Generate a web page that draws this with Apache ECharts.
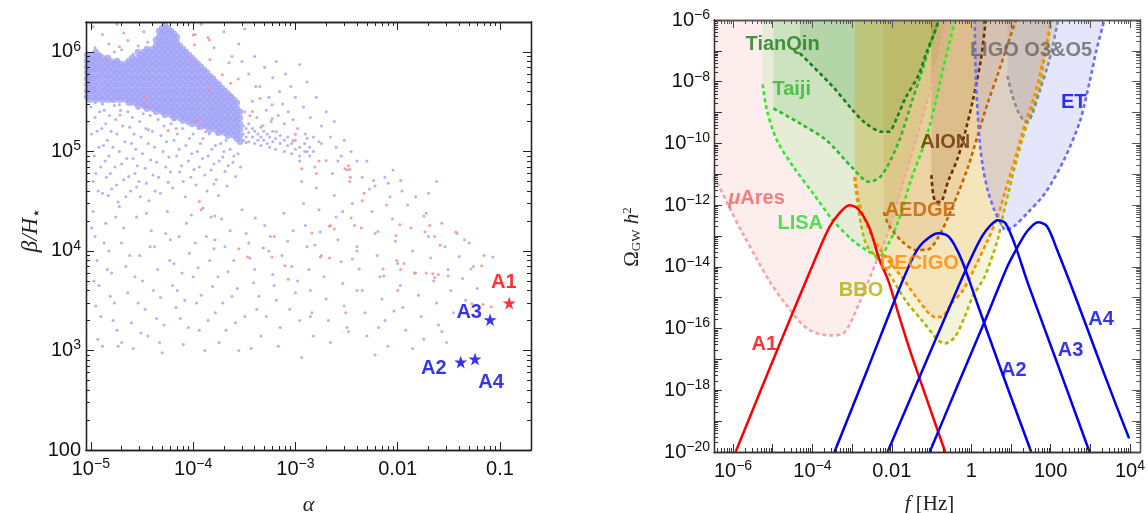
<!DOCTYPE html>
<html><head><meta charset="utf-8">
<script src="https://cdn.jsdelivr.net/npm/echarts@6.0.0/dist/echarts.min.js"></script>
<style>html,body{margin:0;padding:0;background:#fff}#c{width:1148px;height:513px}</style>
</head><body><div id="c"></div><script>
// ================= LEFT PANEL DATA (alpha, beta/H*) =================
const alphaTicks = [1e-5, 1e-4, 1e-3, 0.01, 0.1];
const alphaTickLabels = ['10^-5', '10^-4', '10^-3', '0.01', '0.1'];
const betaTicks = [100, 1e3, 1e4, 1e5, 1e6];
const betaTickLabels = ['100', '10^3', '10^4', '10^5', '10^6'];

// dense cloud: one alpha per column, with the beta values read along that column
const clusterAlpha = [9.2e-6,9.8e-6,1.05e-5,1.12e-5,1.2e-5,1.29e-5,1.38e-5,1.47e-5,1.58e-5,1.69e-5,1.8e-5,1.93e-5,2.06e-5,2.21e-5,2.36e-5,2.53e-5,2.7e-5,2.89e-5,3.1e-5,3.31e-5,3.54e-5,3.79e-5,4.05e-5,4.34e-5,4.64e-5,4.97e-5,5.3e-5,5.7e-5,6.1e-5,6.5e-5,6.96e-5,7.45e-5,7.97e-5,8.5e-5,9.1e-5,9.75e-5,1.04e-4,1.11e-4,1.19e-4,1.28e-4,1.37e-4,1.46e-4,1.56e-4,1.67e-4,1.79e-4,1.91e-4,2.05e-4,2.19e-4,2.34e-4,2.51e-4,2.68e-4,2.87e-4];
const clusterBeta = [
[9.3e5,8.1e5,7.1e5,6.2e5,5.4e5,4.7e5,4.06e5,3.53e5],
[8.7e5,7.6e5,6.6e5,5.7e5,5.0e5,4.35e5,3.8e5,3.3e5],
[9.4e5,8.2e5,7.1e5,6.3e5,5.4e5,4.6e5,4.1e5,3.5e5],
[1.0e6,8.6e5,7.6e5,6.7e5,5.7e5,5.0e5,4.3e5,3.8e5,3.3e5],
[9.2e5,8.1e5,7.0e5,6.2e5,5.5e5,4.7e5,4.0e5,3.5e5],
[8.8e5,7.6e5,6.6e5,5.8e5,5.0e5,4.4e5,3.8e5,3.3e5],
[8.1e5,7.1e5,6.2e5,5.4e5,4.7e5,4.1e5,3.5e5],
[8.7e5,7.5e5,6.6e5,5.7e5,4.9e5,4.35e5,3.8e5,3.3e5],
[8.0e5,7.1e5,6.2e5,5.4e5,4.7e5,4.06e5,3.55e5],
[7.6e5,6.6e5,5.7e5,5.0e5,4.35e5,3.8e5,3.3e5],
[8.1e5,7.2e5,6.2e5,5.4e5,4.7e5,4.06e5,3.5e5],
[7.6e5,6.5e5,5.7e5,5.0e5,4.4e5,3.8e5,3.3e5],
[7.1e5,6.2e5,5.4e5,4.7e5,4.06e5,3.53e5],
[7.6e5,6.6e5,5.7e5,5.0e5,4.35e5,3.8e5,3.3e5],
[8.1e5,7.1e5,6.2e5,5.4e5,4.7e5,4.06e5,3.53e5,3.08e5],
[8.7e5,7.6e5,6.6e5,5.7e5,5.0e5,4.35e5,3.8e5,3.3e5],
[8.1e5,7.1e5,6.2e5,5.4e5,4.7e5,4.06e5,3.53e5,3.08e5],
[1.0e6,8.7e5,7.6e5,6.6e5,5.7e5,5.0e5,4.35e5,3.8e5,3.3e5,2.87e5],
[9.3e5,8.1e5,7.1e5,6.2e5,5.4e5,4.7e5,4.06e5,3.53e5,3.08e5],
[1.0e6,8.7e5,7.6e5,6.6e5,5.7e5,5.0e5,4.35e5,3.8e5,3.3e5,2.87e5],
[1.07e6,9.3e5,8.1e5,7.1e5,6.2e5,5.4e5,4.7e5,4.06e5,3.53e5,3.08e5,2.68e5],
[1.0e6,8.7e5,7.6e5,6.6e5,5.7e5,5.0e5,4.35e5,3.8e5,3.3e5,2.87e5],
[1.07e6,9.3e5,8.1e5,7.1e5,6.2e5,5.4e5,4.7e5,4.06e5,3.53e5,3.08e5,2.68e5],
[1.32e6,1.15e6,1.0e6,8.7e5,7.6e5,6.6e5,5.7e5,5.0e5,4.35e5,3.8e5,3.3e5,2.87e5,2.5e5],
[1.62e6,1.41e6,1.23e6,1.07e6,9.3e5,8.1e5,7.1e5,6.2e5,5.4e5,4.7e5,4.06e5,3.53e5,3.08e5,2.68e5],
[1.74e6,1.52e6,1.32e6,1.15e6,1.0e6,8.7e5,7.6e5,6.6e5,5.7e5,5.0e5,4.35e5,3.8e5,3.3e5,2.87e5,2.5e5],
[1.87e6,1.62e6,1.41e6,1.23e6,1.07e6,9.3e5,8.1e5,7.1e5,6.2e5,5.4e5,4.7e5,4.06e5,3.53e5,3.08e5,2.68e5,2.33e5],
[1.74e6,1.52e6,1.32e6,1.15e6,1.0e6,8.7e5,7.6e5,6.6e5,5.7e5,5.0e5,4.35e5,3.8e5,3.3e5,2.87e5,2.5e5],
[1.62e6,1.41e6,1.23e6,1.07e6,9.3e5,8.1e5,7.1e5,6.2e5,5.4e5,4.7e5,4.06e5,3.53e5,3.08e5,2.68e5,2.33e5],
[1.52e6,1.32e6,1.15e6,1.0e6,8.7e5,7.6e5,6.6e5,5.7e5,5.0e5,4.35e5,3.8e5,3.3e5,2.87e5,2.5e5,2.17e5],
[1.41e6,1.23e6,1.07e6,9.3e5,8.1e5,7.1e5,6.2e5,5.4e5,4.7e5,4.06e5,3.53e5,3.08e5,2.68e5,2.33e5],
[1.15e6,1.0e6,8.7e5,7.6e5,6.6e5,5.7e5,5.0e5,4.35e5,3.8e5,3.3e5,2.87e5,2.5e5,2.17e5],
[1.07e6,9.3e5,8.1e5,7.1e5,6.2e5,5.4e5,4.7e5,4.06e5,3.53e5,3.08e5,2.68e5,2.33e5,2.03e5],
[1.0e6,8.7e5,7.6e5,6.6e5,5.7e5,5.0e5,4.35e5,3.8e5,3.3e5,2.87e5,2.5e5,2.17e5],
[9.3e5,8.1e5,7.1e5,6.2e5,5.4e5,4.7e5,4.06e5,3.53e5,3.08e5,2.68e5,2.33e5,2.03e5],
[8.7e5,7.6e5,6.6e5,5.7e5,5.0e5,4.35e5,3.8e5,3.3e5,2.87e5,2.5e5,2.17e5,1.89e5],
[8.1e5,7.1e5,6.2e5,5.4e5,4.7e5,4.06e5,3.53e5,3.08e5,2.68e5,2.33e5,2.03e5],
[7.6e5,6.6e5,5.7e5,5.0e5,4.35e5,3.8e5,3.3e5,2.87e5,2.5e5,2.17e5,1.89e5],
[7.1e5,6.2e5,5.4e5,4.7e5,4.06e5,3.53e5,3.08e5,2.68e5,2.33e5,2.03e5,1.77e5],
[6.6e5,5.7e5,5.0e5,4.35e5,3.8e5,3.3e5,2.87e5,2.5e5,2.17e5,1.89e5],
[6.2e5,5.4e5,4.7e5,4.06e5,3.53e5,3.08e5,2.68e5,2.33e5,2.03e5,1.77e5],
[5.7e5,5.0e5,4.35e5,3.8e5,3.3e5,2.87e5,2.5e5,2.17e5,1.89e5,1.65e5],
[5.4e5,4.7e5,4.06e5,3.53e5,3.08e5,2.68e5,2.33e5,2.03e5,1.77e5],
[5.0e5,4.35e5,3.8e5,3.3e5,2.87e5,2.5e5,2.17e5,1.89e5,1.65e5],
[4.7e5,4.06e5,3.53e5,3.08e5,2.68e5,2.33e5,2.03e5,1.77e5,1.54e5],
[4.35e5,3.8e5,3.3e5,2.87e5,2.5e5,2.17e5,1.89e5,1.65e5],
[4.06e5,3.53e5,3.08e5,2.68e5,2.33e5,2.03e5,1.77e5,1.54e5],
[3.8e5,3.3e5,2.87e5,2.5e5,2.17e5,1.89e5,1.65e5,1.44e5],
[3.53e5,3.08e5,2.68e5,2.33e5,2.03e5,1.77e5,1.54e5],
[3.3e5,2.87e5,2.5e5,2.17e5,1.89e5,1.65e5,1.44e5],
[3.08e5,2.68e5,2.33e5,2.03e5,1.77e5,1.54e5,1.34e5],
[2.5e5,2.17e5,1.89e5,1.65e5,1.44e5,1.25e5]
];

const blueSparse = [
[1.1e-5,1.1e6],[1.3e-5,1.5e6],[1.5e-5,1.2e6],[1.8e-5,1.9e6],[2e-5,1.05e6],[2.3e-5,1.3e6],[2.6e-5,9.5e5],[2.9e-5,1.15e6],[3.3e-5,1.6e6],[3.6e-5,1.25e6],[1.2e-5,9.6e5],[1.7e-5,1.0e6],[1.05e-5,1.8e6],[2.1e-5,1.55e6],[1.4e-4,1.4e6],[1.6e-4,1.1e6],[1.2e-4,1.9e6],[2e-4,1.6e6],[2.4e-4,9e5],[2.8e-4,1.2e6],[1.05e-4,1.5e6],[3.2e-4,1.7e6],
[3e-4,8e5],[3.5e-4,6e5],[4e-4,9e5],[4.5e-4,4.5e5],[5e-4,7e5],[5.5e-4,3.5e5],[6e-4,5.5e5],[6.5e-4,8e5],[7e-4,4e5],[7.5e-4,3e5],[8e-4,6e5],[8.5e-4,2.5e5],[9e-4,4.5e5],[1e-3,3.5e5],[1.1e-3,7.5e5],[1.2e-3,2.8e5],[1.3e-3,5e5],[1.4e-3,2.2e5],[1.6e-3,3.5e5],[1.8e-3,1.8e5],[2e-3,2.5e5],[3.2e-4,2.5e5],[3.8e-4,3.2e5],[4.2e-4,2.2e5],[5.2e-4,2.6e5],[5.8e-4,2e5],[6.8e-4,2.3e5],[7.8e-4,1.9e5],[9.5e-4,2.1e5],[1.05e-3,1.7e5],[1.25e-3,1.5e5],[1.5e-3,1.4e5],[1.7e-3,1.25e5],[2.2e-3,1.4e5],[2.5e-3,1.1e5],[2.8e-3,9e4],[3e-3,1.3e5],[2.4e-3,2e5],[3.5e-3,1e5],[4e-3,8e4],
[3.1e-4,1.8e5],[3.1e-4,1.5e5],[3.1e-4,1.3e5],[3.3e-4,1.7e5],[3.3e-4,1.4e5],[3.5e-4,1.9e5],[3.5e-4,1.55e5],[3.5e-4,1.25e5],[3.8e-4,1.7e5],[3.8e-4,1.4e5],[4.0e-4,1.6e5],[4.0e-4,1.2e5],[4.3e-4,1.5e5],[4.3e-4,1.3e5],[4.6e-4,1.75e5],[4.6e-4,1.4e5],[4.6e-4,1.15e5],[4.9e-4,1.6e5],[4.9e-4,1.3e5],[5.3e-4,1.5e5],[5.3e-4,1.2e5],[5.6e-4,1.4e5],[5.6e-4,1.1e5],[6.0e-4,1.6e5],[6.0e-4,1.25e5],[6.4e-4,1.35e5],[6.4e-4,1.05e5],[7.1e-4,1.45e5],[7.1e-4,1.2e5],[7.8e-4,1.3e5],[7.8e-4,1.0e5],[8.4e-4,1.4e5],[8.4e-4,1.15e5],[9.2e-4,1.2e5],[9.2e-4,9.5e4],[1.0e-3,1.3e5],[1.0e-3,1.05e5],[1.1e-3,1.1e5],[1.1e-3,9e4],[1.23e-3,1.2e5],[1.23e-3,1.0e5],[1.38e-3,1.1e5],[1.38e-3,9e4],[1.5e-3,1.0e5],
[1.0e-5,2.8e5],[1.1e-5,2.2e5],[1.15e-5,1.6e5],[1.2e-5,1.1e5],[1.25e-5,7e4],[1.05e-5,5e4],[1.3e-5,3.8e4],[1.35e-5,2.6e5],[1.4e-5,1.9e5],[1.45e-5,1.3e5],[1.5e-5,9e4],[1.55e-5,6e4],[1.6e-5,4.2e4],[1.7e-5,2.9e5],[1.75e-5,2.1e5],[1.8e-5,1.5e5],[1.9e-5,1e5],[2e-5,7.5e4],[2.1e-5,5.2e4],[2.2e-5,3.5e4],[2.3e-5,2.5e5],[2.4e-5,1.75e5],[2.5e-5,1.2e5],[2.6e-5,8.5e4],[2.7e-5,6e4],[2.8e-5,4.4e4],[2.9e-5,2.7e5],[3e-5,2e5],[3.1e-5,1.4e5],[3.2e-5,9.5e4],[3.4e-5,6.8e4],[3.5e-5,4.8e4],[3.7e-5,3.2e4],[3.8e-5,2.3e5],[4e-5,1.6e5],[4.2e-5,1.1e5],[4.4e-5,7.8e4],[4.6e-5,5.5e4],[4.8e-5,3.8e4],[5e-5,2.5e5],[5.2e-5,1.8e5],[5.5e-5,1.25e5],[5.8e-5,8.8e4],[6e-5,6.2e4],[6.3e-5,4.3e4],[6.6e-5,2.1e5],[7e-5,1.5e5],[7.3e-5,1.05e5],[7.7e-5,7.2e4],[8e-5,5e4],[8.4e-5,3.5e4],[8.8e-5,1.9e5],[9.2e-5,1.35e5],[9.7e-5,9.5e4],[1.02e-4,6.6e4],[1.07e-4,4.6e4],[1.12e-4,1.7e5],[1.18e-4,1.2e5],[1.24e-4,8.5e4],[1.3e-4,5.8e4],[1.37e-4,4e4],[1.44e-4,1.5e5],[1.52e-4,1.05e5],[1.6e-4,7.5e4],[1.68e-4,5.2e4],[1.77e-4,3.6e4],[1.86e-4,1.2e5],[1.95e-4,8.8e4],[2.05e-4,6.3e4],[2.15e-4,4.5e4],[2.3e-4,1.05e5],[2.45e-4,7.8e4],[2.6e-4,5.6e4],[2.75e-4,9.5e4],[2.9e-4,7e4],[1.1e-5,3.1e5],[1.6e-5,3.2e5],[2.5e-5,3e5],[3.3e-5,2.9e5],[4.5e-5,2.7e5],[6e-5,2.6e5],[8e-5,2.3e5],[1.05e-4,2e5],[1.35e-4,1.8e5],[1.7e-4,1.5e5],[2.1e-4,1.3e5],
[1.02e-5,1.5e5],[1.08e-5,9e4],[1.12e-5,6e4],[1.18e-5,4e4],[1.22e-5,2.5e5],[1.28e-5,1.7e5],[1.33e-5,1.15e5],[1.38e-5,8e4],[1.42e-5,5.5e4],[1.48e-5,3.6e4],[1.52e-5,2.3e5],[1.58e-5,1.6e5],[1.65e-5,1.1e5],[1.72e-5,7e4],[1.78e-5,4.6e4],[1.85e-5,3.1e4],[1.95e-5,2.6e5],[2.05e-5,1.8e5],[2.15e-5,1.25e5],[2.25e-5,8.5e4],[2.35e-5,5.6e4],[2.45e-5,4e4],[2.55e-5,2.2e5],[2.65e-5,1.5e5],[2.75e-5,1.05e5],[2.85e-5,7.2e4],[2.95e-5,5e4],[3.05e-5,3.5e4],[3.25e-5,2.4e5],[3.45e-5,1.7e5],[3.65e-5,1.2e5],[3.85e-5,8.2e4],[4.05e-5,5.8e4],[4.25e-5,4e4],[4.55e-5,2.1e5],[4.85e-5,1.45e5],[5.1e-5,1e5],[5.4e-5,7e4],[5.7e-5,4.9e4],[6.1e-5,1.9e5],[6.5e-5,1.3e5],[6.9e-5,9e4],[7.4e-5,6.2e4],[7.9e-5,1.7e5],[8.5e-5,1.15e5],[9e-5,8e4],[9.5e-5,5.5e4],[1.0e-4,1.5e5],[1.1e-4,1e5],[1.15e-4,7e4],[1.25e-4,1.35e5],[1.4e-4,9e4],[1.5e-4,6.5e4],[1.65e-4,1.15e5],[1.8e-4,8e4],[2e-4,1e5],[2.2e-4,7.2e4],[2.5e-4,9e4],[1.3e-5,3e5],[1.9e-5,2.95e5],
[1.05e-5,2.5e4],[1.1e-5,1.4e4],[1.15e-5,8e3],[1.2e-5,4.5e3],[1.25e-5,2.2e3],[1.3e-5,1.1e3],[1.4e-5,1.9e4],[1.5e-5,1e4],[1.6e-5,6e3],[1.7e-5,3e3],[1.8e-5,1.6e3],[1.9e-5,2.8e4],[2e-5,1.2e4],[2.2e-5,7e3],[2.3e-5,3.8e3],[2.5e-5,1.9e3],[2.6e-5,1.05e3],[2.8e-5,2.2e4],[3e-5,9e3],[3.2e-5,5e3],[3.4e-5,2.6e3],[3.6e-5,1.4e3],[3.9e-5,1.6e4],[4.2e-5,1.1e4],[4.5e-5,6.5e3],[4.8e-5,3.4e3],[5.2e-5,1.8e3],[5.6e-5,2.5e4],[6e-5,1.3e4],[6.5e-5,7.5e3],[7e-5,4e3],[7.5e-5,2.1e3],[8e-5,1.15e3],[8.6e-5,1.9e4],[9.2e-5,9.5e3],[1e-4,5.5e3],[1.08e-4,3e3],[1.15e-4,1.6e3],[1.25e-4,2.7e4],[1.35e-4,1.4e4],[1.45e-4,8e3],[1.55e-4,4.4e3],[1.65e-4,2.4e3],[1.8e-4,1.2e3],[1.9e-4,2.1e4],[2.05e-4,1.1e4],[2.2e-4,6.2e3],[2.4e-4,3.5e3],[2.6e-4,1.9e3],[2.8e-4,1e3],[3e-4,2.6e4],[3.3e-4,1.5e4],[3.6e-4,8.5e3],[3.9e-4,4.8e3],[4.2e-4,2.6e3],[4.6e-4,1.4e3],[5e-4,1.8e4],[5.5e-4,1e4],[6e-4,5.8e3],[6.5e-4,3.2e3],[7.1e-4,1.7e3],[7.7e-4,2.4e4],[8.4e-4,1.25e4],[9.2e-4,7e3],[1e-3,3.8e3],[1.1e-3,2e3],[1.15e-3,8.5e2],[1.3e-4,1e3],[5e-5,9.5e2],[2e-5,1.2e3],[3.7e-4,1.05e3],[6.8e-4,1.1e3],
[1.02e-5,1.7e4],[1.07e-5,5e3],[1.12e-5,2.8e3],[1.17e-5,1.3e3],[1.35e-5,1.2e4],[1.45e-5,6.5e3],[1.55e-5,3.5e3],[1.65e-5,2e3],[1.75e-5,2.2e4],[1.85e-5,1.1e3],[2.1e-5,1.7e4],[2.4e-5,9e3],[2.7e-5,5.5e3],[2.9e-5,3e3],[3.1e-5,1.5e3],[3.5e-5,2.4e4],[3.8e-5,1.1e4],[4.1e-5,4e3],[4.4e-5,2.1e3],[4.7e-5,1.2e3],[5.4e-5,1.5e4],[5.9e-5,8e3],[6.3e-5,4.5e3],[6.8e-5,2.7e3],[7.3e-5,1.4e4],[7.8e-5,6e3],[8.3e-5,3.2e3],[9e-5,1.7e3],[9.6e-5,2.3e4],[1.05e-4,1.2e4],[1.12e-4,6.8e3],[1.2e-4,3.6e3],[1.4e-4,2e3],[1.5e-4,2.2e4],[1.6e-4,1.05e4],[1.75e-4,5.5e3],[1.95e-4,3e3],[2.1e-4,1.6e3],[2.3e-4,1.6e4],[2.5e-4,8e3],[2.7e-4,4.2e3],[3.2e-4,2.2e3],[3.5e-4,1.2e4],[4e-4,6.5e3],[4.4e-4,3.5e3],[5.2e-4,2.2e3],[5.7e-4,1.4e4],[6.2e-4,4.5e3],[7.4e-4,9e3],[8.8e-4,2.6e3],[9.5e-4,1.6e4],[1.05e-3,5e3],
[1.1e-3,8e4],[1.15e-3,5e4],[1.2e-3,3e4],[1.25e-3,1.8e4],[1.3e-3,1.1e4],[1.35e-3,6.5e3],[1.4e-3,4e3],[1.45e-3,2.4e3],[1.5e-3,1.4e3],[1.55e-3,7e4],[1.6e-3,4.3e4],[1.7e-3,2.6e4],[1.75e-3,1.55e4],[1.8e-3,9e3],[1.9e-3,5.5e3],[2e-3,3.3e3],[2.1e-3,2e3],[2.2e-3,1.2e3],[2.3e-3,6e4],[2.4e-3,3.6e4],[2.5e-3,2.2e4],[2.6e-3,1.3e4],[2.8e-3,7.8e3],[2.9e-3,4.7e3],[3e-3,2.8e3],[3.2e-3,1.7e3],[3.4e-3,5e4],[3.6e-3,3e4],[3.8e-3,1.8e4],[4e-3,1.1e4],[4.2e-3,6.6e3],[4.5e-3,4e3],[4.8e-3,2.4e3],[5e-3,1.4e3],[5.3e-3,4.2e4],[5.6e-3,2.5e4],[6e-3,1.5e4],[6.3e-3,9e3],[6.7e-3,5.5e3],[7e-3,3.3e3],[7.5e-3,2e3],[8e-3,1.1e3],[8.4e-3,3.5e4],[8.9e-3,2.1e4],[9.5e-3,1.25e4],[1e-2,7.5e3],[1.06e-2,4.5e3],[1.12e-2,2.7e3],[1.2e-2,1.6e3],[1.25e-2,2.9e4],[1.35e-2,1.7e4],[1.4e-2,1e4],[1.5e-2,6e3],[1.6e-2,3.6e3],[1.7e-2,2.2e3],[1.8e-2,1.3e3],[1.9e-2,2.4e4],[2e-2,1.4e4],[2.1e-2,8.5e3],[2.25e-2,5e3],[2.4e-2,3e3],[2.5e-2,1.8e3],[2.7e-2,1.9e4],[2.9e-2,1.1e4],[3.1e-2,6.5e3],[3.3e-2,4e3],[3.5e-2,2.4e3],[3.8e-2,1.5e4],[4e-2,8.8e3],[4.3e-2,5.3e3],[4.6e-2,3.2e3],[5e-2,1.2e4],[5.5e-2,7e3],[6e-2,4.2e3],[7e-2,9e3],[8.5e-2,8.7e3],[3e-2,1.2e3],[1.4e-2,1.05e3],[6e-3,9e2],[1.3e-3,1e5],[1.8e-3,1.2e5],[2.6e-3,8e4],[3.2e-3,6.5e4],[4.5e-3,5.5e4],[6e-3,4.5e4],[7.5e-3,5.5e4],[1.1e-2,4e4],[1.5e-2,3.5e4],[2e-2,3.8e4],[2.4e-2,5e4],[9e-3,6.5e4],[5e-3,8e4]
];

const redPoints = [
[1.9e-5,1.13e6],[1.43e-5,8.3e5],[1.93e-5,2.33e5],[3.38e-5,3.56e5],[3.55e-5,2.87e5],[3.65e-5,1.65e5],[5.7e-5,1.62e5],[6.8e-5,1.7e5],[1.0e-4,1.48e6],[1.03e-4,1.18e6],[9.5e-5,8.3e5],[1.44e-4,1.32e6],[1.46e-4,8.4e5],[1.43e-4,4.15e5],[1.1e-4,2.05e5],[1.33e-4,1.58e5],[1.93e-4,5.9e5],[2.24e-4,7.8e5],[2.33e-4,4.85e5],[2.76e-4,5.35e5],[2.38e-4,3.7e5],[4.1e-4,4.5e5],[4.5e-4,3.4e5],[3.8e-4,2.52e5],[3.6e-4,2.28e5],[5.9e-4,2.94e5],[5.9e-4,2.13e5],[4.8e-4,1.82e5],[3.3e-4,1.23e5],[6.5e-4,1.58e5],[1.0e-3,1.49e5],[9.5e-4,1.28e5],[1.3e-3,1.36e5],[1.7e-3,8.0e4],[2.0e-3,8.1e4],[1.15e-3,6.7e4],[1.6e-3,6.0e4],[1.6e-4,4.7e4],[1.15e-4,3.15e4],[1.2e-4,2.6e4],[1.63e-4,2.25e4],[4.05e-4,2.15e4],[2.15e-3,1.77e4],[3.05e-3,6.7e4],[3.3e-3,7.2e4],[3.4e-3,6.6e4],[3.45e-3,5.5e4],[5.8e-3,5.1e4],[8.1e-3,4.8e4],[1.07e-2,5.1e4],[4.7e-3,3.8e4],[4.5e-3,3.2e4],[7.8e-3,2.9e4],[2.9e-3,2.5e4],[3.5e-3,2.15e4],[1.05e-2,1.83e4],[1.8e-2,2.25e4],[2.05e-2,1.8e4],[1.85e-2,1.56e4],[2.3e-2,1.4e4],[2.6e-2,1.14e4],[3.7e-2,1.55e4],[4.5e-2,1.3e4],[1.45e-3,1.52e4],[1.55e-3,1.15e4],[2.2e-3,1.8e4],[2.4e-3,1.66e4],[4.4e-3,1.7e4],[6.4e-3,1.57e4],[9.6e-3,1.43e4],[1.75e-3,8.7e3],[3.6e-3,8.3e3],[4.0e-3,1.0e4],[7.2e-3,6.6e3],[7.3e-3,5.6e3],[9.8e-3,8.0e3],[1.15e-2,7.5e3],[1.07e-2,6.5e3],[1.46e-2,6.0e3],[1.9e-2,6.0e3],[2.2e-2,5.9e3],[2.5e-2,5.8e3],[3.1e-2,5.6e3],[2.3e-2,5.4e3],[5.2e-2,6.6e3],[6.6e-2,7.1e3],[5.3e-2,2.95e3],[6.8e-2,2.9e3],[8.2e-2,2.75e3],[1.0e-2,4.0e3],[3.1e-3,2.4e3],[9.2e-3,2.5e3],[6.5e-3,1.7e3],[3.3e-3,1.55e3],[2.7e-2,1.55e3],[1.4e-3,2.2e3],[4.0e-3,4.0e3],[1.63e-4,1.3e4],[2.8e-4,1.05e4],[4.85e-4,1.07e4],[5.9e-4,8.7e3],[6.2e-4,1.4e4],[3.4e-4,8.7e3],[7.9e-4,7.1e3],[8.5e-4,5.2e3],[2.15e-3,8.5e3]
];

const benchmarkNames = ['A1', 'A2', 'A3', 'A4'];
const benchmarkAlpha = [0.123, 0.0413, 0.080, 0.057];
const benchmarkBeta = [3000, 767, 2040, 822];

// ================= RIGHT PANEL DATA (f [Hz], Omega h^2) =================
const freqTicks = [1e-6, 1e-4, 0.01, 1, 100, 1e4];
const freqTickLabels = ['10^-6', '10^-4', '0.01', '1', '100', '10^4'];
const omegaTicks = [1e-20, 1e-18, 1e-16, 1e-14, 1e-12, 1e-10, 1e-8, 1e-6];
const omegaTickLabels = ['10^-20', '10^-18', '10^-16', '10^-14', '10^-12', '10^-10', '10^-8', '10^-6'];

const muAres = [[3.3e-7,8.7e-12],[7.8e-7,9.3e-13],[1.73e-6,1.23e-13],[4.1e-6,1.66e-14],[8.6e-6,3.16e-15],[2.04e-5,6.6e-16],[7.2e-5,1.02e-16],[2.7e-4,6.0e-17],[6.4e-4,7.6e-17],[1.5e-3,6.6e-16],[3.9e-3,1.29e-14],[8.4e-3,1.55e-13],[0.020,6.5e-12],[0.039,1.12e-10],[0.076,2.24e-9],[0.134,4.5e-8],[0.238,6.9e-7],[0.263,1e-6]];
const lisa = [[5.56e-6,8.2e-9],[7.1e-6,1.2e-9],[1.27e-5,1.28e-10],[3.29e-5,1.75e-11],[1.04e-4,2.4e-12],[3.26e-4,3.26e-13],[1.03e-3,7.3e-14],[2.67e-3,3.05e-14],[4.74e-3,2.1e-14],[8.4e-3,5.85e-14],[0.0149,3.26e-13],[0.0315,7.5e-12],[0.069,1.13e-10],[0.122,1.75e-9],[0.197,2.7e-8],[0.318,3.26e-7],[0.393,1e-6]];
const taiji = [[1.04e-5,1.37e-9],[4.83e-5,4.46e-10],[2.23e-4,1.28e-10],[1.03e-3,1.58e-11],[2.67e-3,5.7e-12],[5.64e-3,9.4e-12],[0.0149,1.13e-10],[0.032,2.24e-9],[0.0569,2.1e-8],[0.092,1.55e-7],[0.148,8.8e-7],[0.152,1e-6]];
const tianqin = [[4.83e-5,8.3e-8],[3.26e-4,6.9e-9],[1.03e-3,1.2e-9],[2.21e-3,4.46e-10],[5.7e-3,2.38e-10],[8.4e-3,2.38e-10],[0.0133,6.6e-10],[0.0219,2.9e-9],[0.047,1.64e-8],[0.0757,9.4e-8],[0.122,4.2e-7],[0.152,1e-6]];
const bbo = [[1.13e-3,8.1e-12],[1.5e-3,5.4e-13],[2.21e-3,5.7e-14],[3.93e-3,2.1e-14],[8.4e-3,6.1e-15],[0.0219,8.3e-16],[0.0569,1.86e-16],[0.148,4.2e-17],[0.217,3.3e-17],[0.386,5.3e-17],[0.685,2.4e-16],[1.10,1.12e-15],[2.16,4.7e-15],[4.6,7.3e-14],[6.2,4.1e-13],[9.0,3.06e-12],[14.6,3.7e-11],[25.8,4.46e-10],[50.6,5.4e-9],[72.6,7.3e-8],[108,1e-6]];
const decigo = [[1.2e-3,8.1e-12],[1.5e-3,1.16e-12],[3.18e-3,9.35e-14],[6.97e-3,2.1e-14],[0.0177,4.7e-15],[0.047,8.3e-16],[0.122,2.4e-16],[0.179,2.4e-16],[0.318,6.5e-16],[0.621,1.75e-15],[1.24,9.7e-15],[2.6,7.3e-14],[4.6,4.1e-13],[7.3,3.06e-12],[13,3.6e-11],[23,4.56e-10],[40.9,4.3e-9],[64.7,5.0e-8],[102,1e-6]];
const aedge = [[6.3e-3,5.9e-13],[8.4e-3,2.24e-13],[0.0177,6.8e-14],[0.042,3.5e-14],[0.0835,3.7e-14],[0.148,9.1e-14],[0.263,4.1e-13],[0.467,2.45e-12],[0.828,1.7e-11],[1.47,1.86e-10],[2.6,2.03e-9],[4.6,1.64e-8],[8.2,1.55e-7],[13.4,1e-6]];
const aion = [[0.0991,9.4e-12],[0.111,2.1e-12],[0.132,1.25e-12],[0.166,1.25e-12],[0.263,6.0e-12],[0.467,3.6e-11],[0.738,2.9e-10],[1.10,2.5e-9],[1.75,5.0e-8],[2.32,1e-6]];
const ligo = [[8.2,1.53e-8],[10.3,4.6e-9],[14.6,1.2e-9],[20.5,5.7e-10],[25.8,4.9e-10],[34.4,8.9e-10],[54.5,5.4e-9],[86,3.5e-8],[115,1.55e-7],[153,1e-6]];
const et = [[1.22,1e-6],[1.31,1.13e-8],[1.47,8.3e-10],[1.62,1.28e-10],[1.96,1.75e-11],[2.6,3.06e-12],[3.83,6.9e-13],[5.58,2.55e-13],[7.44,1.54e-13],[12.0,2.08e-13],[25.8,5.5e-13],[72.6,2.45e-12],[216,2.9e-11],[540,4.9e-10],[958,9.8e-9],[1430,1.06e-7],[2260,1e-6]];

const specA1 = [[1.16e-6,1e-20],[1.29e-5,1.98e-17],[1.35e-4,2.77e-14],[2.7e-4,1.97e-13],[4.8e-4,5.5e-13],[8.5e-4,1.0e-12],[1.37e-3,7.8e-13],[2.67e-3,1.97e-13],[4.74e-3,1.9e-14],[8.4e-3,3.2e-15],[0.0133,4.5e-16],[0.0265,2.67e-17],[0.047,3.05e-18],[0.221,1e-20]];
const specA2 = [[3.59e-4,1e-20],[2.38e-3,4.4e-18],[0.0149,1.75e-15],[0.0353,2.2e-14],[0.0627,6.3e-14],[0.148,1.23e-13],[0.263,9.9e-14],[0.393,4.7e-14],[0.621,1.31e-14],[1.47,5.7e-16],[4.9,7.5e-18],[32.5,1e-20]];
const specA3 = [[7.8e-3,1e-20],[0.0835,1.26e-17],[0.467,2.19e-15],[1.10,2.57e-14],[1.96,1.06e-13],[3.10,2.24e-13],[4.6,3.26e-13],[7.3,2.6e-13],[13,4.7e-14],[25.8,3.4e-15],[81,6.1e-17],[256,1.07e-18],[958,1e-20]];
const specA4 = [[0.090,1e-20],[0.467,1.56e-18],[2.6,2.9e-16],[8.2,1.05e-14],[14.6,4.3e-14],[25.8,1.43e-13],[48.5,2.8e-13],[81,2.08e-13],[144,3.7e-14],[455,8.3e-16],[1430,1.58e-17],[4500,3.25e-19],[9500,2.77e-20]];

// ================= STYLE / LAYOUT =================
const FONT = "'Liberation Sans', Arial, Helvetica, sans-serif";
const SERIF = "'Liberation Serif', 'DejaVu Serif', serif";
const lg = Math.log10;
const toLog = arr => arr.map(p => [lg(p[0]), lg(p[1])]);

const LX = [-5.047, -0.697], LY = [2, 6.301];
const RX = [-6.48, 4.257], RY = [-20, -6];

function decades(a, b) { const r = []; for (let e = a; e <= b; e++) r.push(e); return r; }
function minors(a, b, mn, mx) { const r = []; for (let e = a; e <= b; e++) for (let k = 2; k <= 9; k++) { const v = e + lg(k); if (v > mn + 1e-6 && v < mx - 1e-6) r.push(v); } return r; }

function tickRich(s) {
  const i = s.indexOf('^');
  if (i < 0) return '{b|' + s + '}';
  return '{b|' + s.slice(0, i) + '}{s|' + s.slice(i + 1).replace('-', '\u2212') + '}';
}
const tickRichStyle = {
  b: { fontSize: 20, fontFamily: FONT, color: '#111', lineHeight: 26 },
  s: { fontSize: 14, fontFamily: FONT, color: '#111', padding: [0, 0, 10, 0] }
};
function fmt(vals, labels) {
  return function (v) {
    for (let i = 0; i < vals.length; i++) if (Math.abs(lg(vals[i]) - v) < 1e-6) return tickRich(labels[i]);
    return '';
  };
}
function axis(o) {
  const col = o.color || '#222';
  return {
    type: 'value', gridIndex: o.grid, position: o.pos, min: o.range[0], max: o.range[1], z: 10,
    splitLine: { show: false },
    axisLine: { show: true, onZero: false, lineStyle: { color: col, width: 1.3 } },
    axisTick: { show: true, inside: true, length: o.len, customValues: o.ticks, lineStyle: { color: col, width: 1 } },
    axisLabel: o.vals ? { show: true, customValues: o.vals.map(lg), margin: o.margin, formatter: fmt(o.vals, o.labels), rich: tickRichStyle } : { show: false }
  };
}

const xAxes = [
  axis({ grid: 0, pos: 'bottom', range: LX, len: 8, ticks: decades(-5, -1), vals: alphaTicks, labels: alphaTickLabels, margin: 6 }),
  axis({ grid: 0, pos: 'bottom', range: LX, len: 4, ticks: minors(-6, -1, LX[0], LX[1]) }),
  axis({ grid: 0, pos: 'top', range: LX, len: 8, ticks: decades(-5, -1) }),
  axis({ grid: 0, pos: 'top', range: LX, len: 4, ticks: minors(-6, -1, LX[0], LX[1]) }),
  axis({ grid: 1, pos: 'bottom', range: RX, len: 8, ticks: decades(-6, 4), vals: freqTicks, labels: freqTickLabels, margin: 6, color: '#333' }),
  axis({ grid: 1, pos: 'bottom', range: RX, len: 4, ticks: minors(-7, 4, RX[0], RX[1]), color: '#333' }),
  axis({ grid: 1, pos: 'top', range: RX, len: 8, ticks: decades(-6, 4), color: '#555' }),
  axis({ grid: 1, pos: 'top', range: RX, len: 4, ticks: minors(-7, 4, RX[0], RX[1]), color: '#555' })
];
const yAxes = [
  axis({ grid: 0, pos: 'left', range: LY, len: 8, ticks: decades(2, 6), vals: betaTicks, labels: betaTickLabels, margin: 5 }),
  axis({ grid: 0, pos: 'left', range: LY, len: 4, ticks: minors(2, 6, LY[0], LY[1]) }),
  axis({ grid: 0, pos: 'right', range: LY, len: 8, ticks: decades(2, 6) }),
  axis({ grid: 0, pos: 'right', range: LY, len: 4, ticks: minors(2, 6, LY[0], LY[1]) }),
  axis({ grid: 1, pos: 'left', range: RY, len: 8, ticks: decades(-20, -6), vals: omegaTicks, labels: omegaTickLabels, margin: 4, color: '#333' }),
  axis({ grid: 1, pos: 'left', range: RY, len: 4, ticks: minors(-21, -7, RY[0], RY[1]), color: '#333' }),
  axis({ grid: 1, pos: 'right', range: RY, len: 8, ticks: decades(-20, -6), color: '#555' }),
  axis({ grid: 1, pos: 'right', range: RY, len: 4, ticks: minors(-21, -7, RY[0], RY[1]), color: '#555' })
];

// ---- left panel series
const clusterPts = [];
clusterAlpha.forEach((a, i) => clusterBeta[i].forEach(b => clusterPts.push([lg(a), lg(b)])));

const STAR = 'path://M50,0L61.8,35.1L98.9,35.1L68.9,56.9L80.3,92.1L50,70.4L19.7,92.1L31.1,56.9L1.1,35.1L38.2,35.1Z';
const benchColors = ['#ff0000', '#0000ee', '#0000ee', '#0000ee'];
// annotation placements (label centres, in data units)
const leftLabelPos = { A1: [0.109, 4850], A2: [0.0225, 656], A3: [0.050, 2400], A4: [0.0817, 481] };

const series = [];
series.push({ type: 'scatter', xAxisIndex: 0, yAxisIndex: 0, data: toLog(blueSparse), symbolSize: 3, itemStyle: { color: '#9f9ff6' }, silent: true, z: 2 });
series.push({ type: 'scatter', xAxisIndex: 0, yAxisIndex: 0, data: clusterPts, symbolSize: 6.5, itemStyle: { color: '#a2a2f8' }, silent: true, z: 2 });
series.push({ type: 'scatter', xAxisIndex: 0, yAxisIndex: 0, data: toLog(redPoints), symbolSize: 3, itemStyle: { color: '#ff8585' }, silent: true, z: 3 });
series.push({
  type: 'scatter', xAxisIndex: 0, yAxisIndex: 0, symbol: STAR, symbolSize: 13, silent: true, z: 5,
  data: benchmarkNames.map((n, i) => ({ value: [lg(benchmarkAlpha[i]), lg(benchmarkBeta[i])], itemStyle: { color: benchColors[i] } }))
});
series.push({
  type: 'scatter', xAxisIndex: 0, yAxisIndex: 0, symbolSize: 1, itemStyle: { color: 'rgba(0,0,0,0)' }, silent: true, z: 6,
  label: { show: true, position: 'inside', formatter: '{b}', fontSize: 20, fontWeight: 'bold', fontFamily: FONT },
  data: benchmarkNames.map((n, i) => ({ name: n, value: [lg(leftLabelPos[n][0]), lg(leftLabelPos[n][1])], label: { color: benchColors[i] } }))
});

// ---- right panel series
const regions = [
  { data: muAres, line: '#f4a4a4', fill: 'rgba(250,150,150,0.24)' },
  { data: lisa, line: '#33e633', fill: 'rgba(120,230,100,0.25)' },
  { data: taiji, line: '#2fb82f', fill: 'rgba(60,180,60,0.2)' },
  { data: tianqin, line: '#1a7f1a', fill: 'rgba(30,130,30,0.2)' },
  { data: bbo, line: '#b4b400', fill: 'rgba(180,180,0,0.2)' },
  { data: decigo, line: '#ff8c00', fill: 'rgba(255,140,0,0.2)' },
  { data: aedge, line: '#c86400', fill: 'rgba(200,110,20,0.2)' },
  { data: aion, line: '#663300', fill: 'rgba(110,60,10,0.2)' },
  { data: ligo, line: '#8a8a8a', fill: 'rgba(140,140,140,0.25)' },
  { data: et, line: '#6b6bff', fill: 'rgba(110,110,240,0.25)' }
];
regions.forEach(r => series.push({
  type: 'line', xAxisIndex: 4, yAxisIndex: 4, data: toLog(r.data), showSymbol: false, smooth: 0.3, silent: true, z: 2,
  lineStyle: { width: 0, opacity: 0 }, areaStyle: { color: r.fill, origin: 'end' }
}));
regions.forEach(r => series.push({
  type: 'line', xAxisIndex: 4, yAxisIndex: 4, data: toLog(r.data), showSymbol: false, smooth: 0.3, silent: true, z: 3,
  lineStyle: { width: 2.6, color: r.line, type: [4, 3] }
}));
[[specA1, '#ff0000'], [specA2, '#0000ee'], [specA3, '#0000ee'], [specA4, '#0000ee']].forEach(s => series.push({
  type: 'line', xAxisIndex: 4, yAxisIndex: 4, data: toLog(s[0]), showSymbol: false, smooth: 0.3, silent: true, z: 4,
  lineStyle: { width: 2.5, color: s[1] }
}));

const rightLabels = [
  { name: 'μAres', pos: [3.9e-6, 1.7e-12], color: '#f06262' },
  { name: 'TianQin', pos: [1.77e-5, 1.67e-7], color: '#1a7a1a' },
  { name: 'Taiji', pos: [3.0e-5, 5.4e-9], color: '#2db82d' },
  { name: 'LISA', pos: [4.93e-5, 2.5e-13], color: '#22dd22' },
  { name: 'BBO', pos: [1.67e-3, 1.68e-15], color: '#b0b000' },
  { name: 'DECIGO', pos: [0.0492, 1.31e-14], color: '#ff8800' },
  { name: 'AEDGE', pos: [0.0519, 6.9e-13], color: '#c06000' },
  { name: 'AION', pos: [0.221, 1.06e-10], color: '#663300' },
  { name: 'LIGO O3&O5', pos: [32.1, 1.06e-7], color: '#666666' },
  { name: 'ET', pos: [383, 2.1e-9], color: '#0000ff' },
  { name: 'A1', pos: [6.1e-6, 3.0e-17], color: '#ff0000' },
  { name: 'A2', pos: [11.8, 4.3e-18], color: '#0000ee' },
  { name: 'A3', pos: [318, 1.9e-17], color: '#0000ee' },
  { name: 'A4', pos: [1875, 1.9e-16], color: '#0000ee' }
];
series.push({
  type: 'scatter', xAxisIndex: 4, yAxisIndex: 4, symbolSize: 1, itemStyle: { color: 'rgba(0,0,0,0)' }, silent: true, z: 6,
  label: {
    show: true, position: 'inside', fontSize: 20, fontWeight: 'bold', fontFamily: FONT,
    formatter: p => p.name === 'μAres' ? '{m|μ}Ares' : p.name,
    rich: { m: { fontSize: 20, fontWeight: 'bold', fontStyle: 'italic', fontFamily: FONT, color: '#f06262' } }
  },
  data: rightLabels.map(l => ({ name: l.name, value: [lg(l.pos[0]), lg(l.pos[1])], label: { color: l.color } }))
});

// axis titles
const graphic = [
  { type: 'text', x: 31, y: 231, rotation: Math.PI / 2, style: {
      text: '{i|β/H}{sub|★}', align: 'center', verticalAlign: 'middle',
      rich: { i: { fontFamily: SERIF, fontStyle: 'italic', fontSize: 23, fill: '#222' }, sub: { fontFamily: 'DejaVu Sans', fontSize: 8, fill: '#222', padding: [11, 0, 0, 1] } } } },
  { type: 'text', x: 632, y: 237, rotation: Math.PI / 2, style: {
      text: '{r|Ω}{sub|GW}{i| h}{sup|2}', align: 'center', verticalAlign: 'middle',
      rich: { r: { fontFamily: SERIF, fontSize: 21, fill: '#222' }, sub: { fontFamily: SERIF, fontSize: 13, fill: '#222', padding: [9, 0, 0, 0] },
              i: { fontFamily: SERIF, fontStyle: 'italic', fontSize: 21, fill: '#222' }, sup: { fontFamily: SERIF, fontSize: 13, fill: '#222', padding: [0, 0, 9, 0] } } } },
  { type: 'text', x: 308.5, y: 505, style: { text: 'α', align: 'center', verticalAlign: 'middle', font: 'italic 22px ' + SERIF, fill: '#222' } },
  { type: 'text', x: 929.5, y: 504, style: {
      text: '{i|f}{r| [Hz]}', align: 'center', verticalAlign: 'middle',
      rich: { i: { fontFamily: SERIF, fontStyle: 'italic', fontSize: 21, fill: '#222' }, r: { fontFamily: SERIF, fontSize: 21, fill: '#222' } } } }
];

const chart = echarts.init(document.getElementById('c'), null, { renderer: 'canvas', width: 1148, height: 513 });
chart.setOption({
  animation: false,
  backgroundColor: '#ffffff',
  grid: [
    { left: 86, top: 22, width: 445, height: 428, containLabel: false },
    { left: 714, top: 20, width: 430, height: 432, containLabel: false }
  ],
  xAxis: xAxes,
  yAxis: yAxes,
  series: series,
  graphic: graphic
});
</script></body></html>
